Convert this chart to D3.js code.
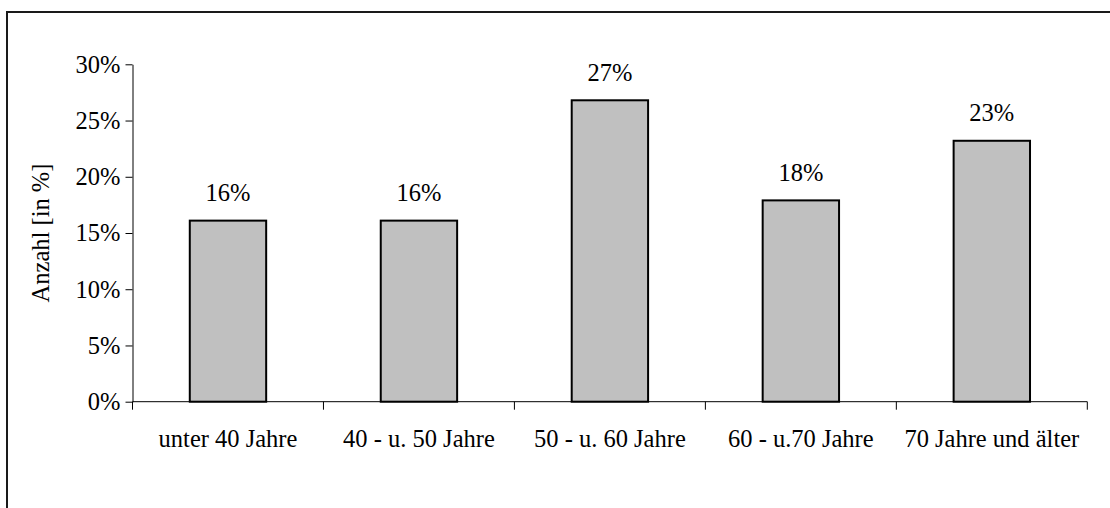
<!DOCTYPE html>
<html>
<head>
<meta charset="utf-8">
<script src="https://cdn.jsdelivr.net/npm/d3@7"></script>
<style>
  html, body { margin: 0; padding: 0; background: #fff; }
  svg { display: block; }
</style>
</head>
<body>
<svg id="chart" width="1110" height="508"></svg>
<script>
const categories = ["unter 40 Jahre", "40 - u. 50 Jahre", "50 - u. 60 Jahre", "60 - u.70 Jahre", "70 Jahre und älter"];
const values = [0.161, 0.161, 0.268, 0.179, 0.232];
const valueLabels = ["16%", "16%", "27%", "18%", "23%"];
const yTicks = [0, 0.05, 0.10, 0.15, 0.20, 0.25, 0.30];
const yTitle = "Anzahl [in %]";

const FONT = "'Liberation Serif', 'Times New Roman', Times, 'DejaVu Serif', serif";
const svg = d3.select("#chart");
const fontSize = 24.5;

// outer frame (only left and top edges fall inside the picture)
svg.append("rect")
  .attr("x", 7).attr("y", 12)
  .attr("width", 1200).attr("height", 600)
  .attr("fill", "none").attr("stroke", "#1a1a1a").attr("stroke-width", 2);

const x = d3.scaleBand().domain(categories).range([132.5, 1087.3]).paddingInner(0.6).paddingOuter(0.3);
const y = d3.scaleLinear().domain([0, 0.30]).range([401.7, 64.3]);

// bars
svg.append("g").selectAll("rect").data(categories).join("rect")
  .attr("x", d => x(d))
  .attr("y", (d, i) => y(values[i]))
  .attr("width", x.bandwidth())
  .attr("height", (d, i) => y(0) - y(values[i]))
  .attr("fill", "#c0c0c0")
  .attr("stroke", "#000")
  .attr("stroke-width", 2);

// value labels
svg.append("g").selectAll("text").data(categories).join("text")
  .attr("x", d => x(d) + x.bandwidth() / 2)
  .attr("y", (d, i) => y(values[i]) - 19.5)
  .attr("text-anchor", "middle")
  .style("font-family", FONT)
  .style("font-size", fontSize + "px")
  .text((d, i) => valueLabels[i]);

// y axis
const yAxis = d3.axisLeft(y).tickValues(yTicks).tickFormat(d3.format(".0%")).tickSize(7).tickPadding(5).tickSizeOuter(0);
const gy = svg.append("g").attr("transform", "translate(132.5,0)").call(yAxis);
gy.attr("font-family", null).attr("font-size", null);
gy.selectAll("text").style("font-size", fontSize + "px").style("font-family", FONT).attr("fill", "#000");
gy.selectAll("line, path").attr("stroke", "#000");

// x axis: ticks at band boundaries pointing down
const gx = svg.append("g").attr("transform", "translate(0,401.7)");
gx.append("line").attr("x1", 132.5).attr("x2", 1087.3).attr("stroke", "#000");
const edges = d3.range(categories.length + 1).map(i => 132.5 + i * x.step());
gx.selectAll(".tk").data(edges).join("line")
  .attr("class", "tk")
  .attr("x1", d => d).attr("x2", d => d)
  .attr("y1", 0).attr("y2", 8)
  .attr("stroke", "#000");
gx.selectAll(".lbl").data(categories).join("text")
  .attr("class", "lbl")
  .attr("x", d => x(d) + x.bandwidth() / 2)
  .attr("y", 45)
  .attr("text-anchor", "middle")
  .style("font-family", FONT)
  .style("font-size", fontSize + "px")
  .text(d => d);

// y title
svg.append("text")
  .attr("transform", "translate(48.5,233) rotate(-90)")
  .attr("text-anchor", "middle")
  .style("font-family", FONT)
  .style("font-size", fontSize + "px")
  .text(yTitle);
</script>
</body>
</html>
